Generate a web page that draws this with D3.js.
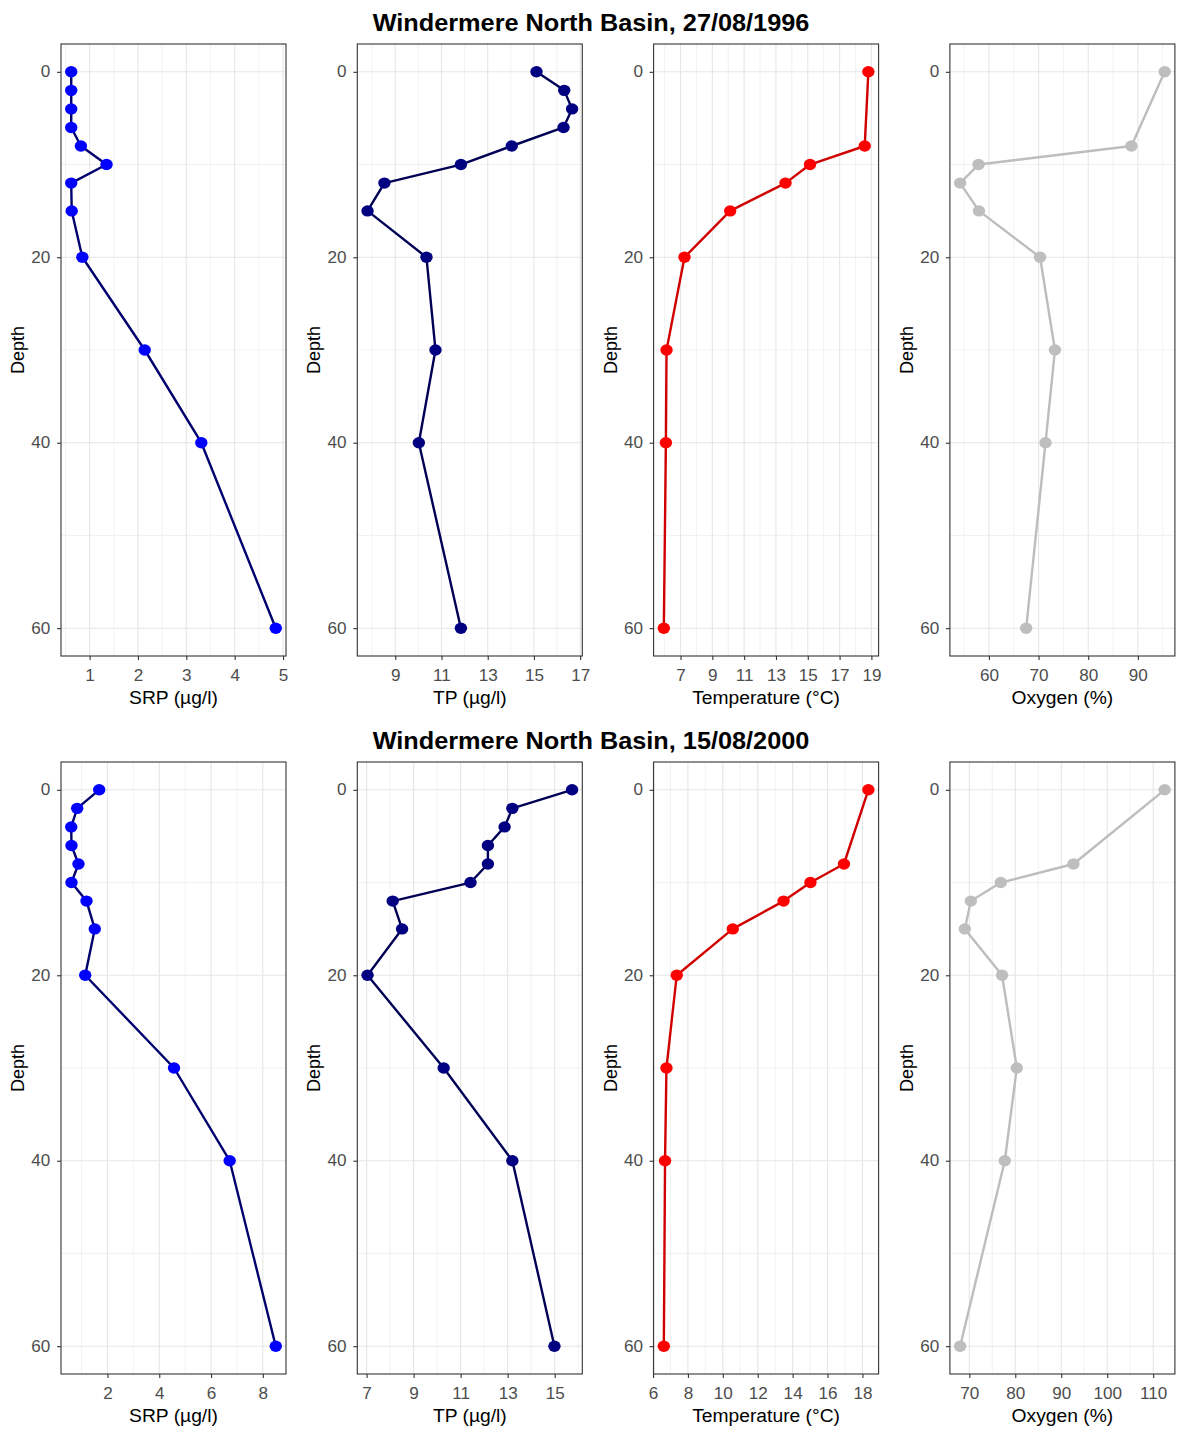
<!DOCTYPE html>
<html>
<head>
<meta charset="utf-8">
<script src="https://cdn.jsdelivr.net/npm/d3@7"></script>
<style>
  body { margin: 0; background: #fff; }
  text { font-family: "Liberation Sans", Arial, sans-serif; }
</style>
</head>
<body>
<div id="chart"></div>
<script>
// depths sampled (m)
const depthsFull = [0, 2, 4, 6, 8, 10, 12, 15, 20, 30, 40, 60];
const depthsShort = [0, 8, 10, 12, 15, 20, 30, 40, 60];

// 27/08/1996
const srp1996 = [0.62, 0.62, 0.62, 0.62, 0.82, 1.35, 0.62, 0.63, 0.85, 2.14, 3.31, 4.85];
const tp1996 = [15.11, 16.31, 16.65, 16.28, 14.04, 11.84, 8.53, 7.80, 10.35, 10.74, 10.02, 11.84];
const temp1996 = [18.81, 18.58, 15.14, 13.60, 10.12, 7.25, 6.12, 6.08, 5.95];
const oxy1996 = [95.4, 88.7, 57.9, 54.2, 58.0, 70.3, 73.3, 71.4, 67.5];

// 15/08/2000
const srp2000 = [1.68, 0.83, 0.60, 0.61, 0.88, 0.61, 1.19, 1.51, 1.14, 4.57, 6.72, 8.50];
const tp2000 = [15.74, 13.20, 12.87, 12.16, 12.16, 11.42, 8.11, 8.51, 7.04, 10.28, 13.20, 14.99];
const temp2000 = [18.34, 16.94, 15.02, 13.48, 10.57, 7.36, 6.77, 6.69, 6.62];
const oxy2000 = [112.5, 92.65, 76.85, 70.33, 69.02, 77.13, 80.33, 77.72, 68.0];

// tick labels
const depthTicks = [0, 20, 40, 60];
const srpTicks1996 = [1, 2, 3, 4, 5];
const tpTicks1996 = [9, 11, 13, 15, 17];
const tempTicks1996 = [7, 9, 11, 13, 15, 17, 19];
const oxyTicks1996 = [60, 70, 80, 90];
const srpTicks2000 = [2, 4, 6, 8];
const tpTicks2000 = [7, 9, 11, 13, 15];
const tempTicks2000 = [6, 8, 10, 12, 14, 16, 18];
const oxyTicks2000 = [70, 80, 90, 100, 110];

const titles = ["Windermere North Basin, 27/08/1996", "Windermere North Basin, 15/08/2000"];
const xTitles = ["SRP (\u00b5g/l)", "TP (\u00b5g/l)", "Temperature (\u00b0C)", "Oxygen (%)"];

const styles = [
  { point: "#0000ff", line: "#00006e" },
  { point: "#000080", line: "#000055" },
  { point: "#ff0000", line: "#d00000" },
  { point: "#bebebe", line: "#bdbdbd" }
];

const rows = [
  { top: 44, panels: [
    { depth: depthsFull, values: srp1996, ticks: srpTicks1996 },
    { depth: depthsFull, values: tp1996, ticks: tpTicks1996 },
    { depth: depthsShort, values: temp1996, ticks: tempTicks1996 },
    { depth: depthsShort, values: oxy1996, ticks: oxyTicks1996 }
  ]},
  { top: 762, panels: [
    { depth: depthsFull, values: srp2000, ticks: srpTicks2000 },
    { depth: depthsFull, values: tp2000, ticks: tpTicks2000 },
    { depth: depthsShort, values: temp2000, ticks: tempTicks2000 },
    { depth: depthsShort, values: oxy2000, ticks: oxyTicks2000 }
  ]}
];

const width = 1182, height = 1434;
const plotW = 225, plotH = 612;
const firstLeft = 61, colStep = 296.3;
const sx = 1.07; // picture is slightly stretched horizontally

const svg = d3.select("#chart").append("svg")
  .attr("width", width)
  .attr("height", height);

svg.append("rect").attr("width", width).attr("height", height).attr("fill", "#fff");

// ggplot style 5% expansion
function expand(ext) {
  const pad = (ext[1] - ext[0]) * 0.05;
  return [ext[0] - pad, ext[1] + pad];
}

function minorOf(ticks, domain) {
  const step = ticks[1] - ticks[0];
  return d3.range(ticks[0] - step / 2, ticks[ticks.length - 1] + step, step)
    .filter(v => v > domain[0] && v < domain[1]);
}

function drawPanel(p, st, xTitle, left, top) {
  const g = svg.append("g");
  const xDom = expand(d3.extent(p.values));
  const yDom = expand(d3.extent(p.depth));
  const x = d3.scaleLinear().domain(xDom).range([left, left + plotW]);
  const y = d3.scaleLinear().domain(yDom).range([top, top + plotH]);

  // grid
  const yMinor = minorOf(depthTicks, yDom);
  const xMinor = minorOf(p.ticks, xDom);
  g.selectAll(".gx-minor").data(xMinor).enter().append("line")
    .attr("x1", d => x(d)).attr("x2", d => x(d))
    .attr("y1", top).attr("y2", top + plotH)
    .attr("stroke", "#ededed").attr("stroke-width", 0.7);
  g.selectAll(".gy-minor").data(yMinor).enter().append("line")
    .attr("y1", d => y(d)).attr("y2", d => y(d))
    .attr("x1", left).attr("x2", left + plotW)
    .attr("stroke", "#ededed").attr("stroke-width", 0.7);
  g.selectAll(".gx").data(p.ticks).enter().append("line")
    .attr("x1", d => x(d)).attr("x2", d => x(d))
    .attr("y1", top).attr("y2", top + plotH)
    .attr("stroke", "#e6e6e6").attr("stroke-width", 1.1);
  g.selectAll(".gy").data(depthTicks).enter().append("line")
    .attr("y1", d => y(d)).attr("y2", d => y(d))
    .attr("x1", left).attr("x2", left + plotW)
    .attr("stroke", "#e6e6e6").attr("stroke-width", 1.1);

  // profile
  const pts = p.depth.map((d, i) => ({ depth: d, value: p.values[i] }));
  const line = d3.line().x(d => x(d.value)).y(d => y(d.depth));
  g.append("path")
    .datum(pts)
    .attr("d", line)
    .attr("fill", "none")
    .attr("stroke", st.line)
    .attr("stroke-width", 2.4)
    .attr("stroke-linejoin", "round");

  g.selectAll("ellipse").data(pts).enter().append("ellipse")
    .attr("cx", d => x(d.value))
    .attr("cy", d => y(d.depth))
    .attr("rx", 6.2)
    .attr("ry", 5.7)
    .attr("fill", st.point);

  // border
  g.append("rect")
    .attr("x", left).attr("y", top)
    .attr("width", plotW).attr("height", plotH)
    .attr("fill", "none")
    .attr("stroke", "#333")
    .attr("stroke-width", 1.1);

  // axes
  const xAxis = g.append("g")
    .attr("transform", `translate(0,${top + plotH})`)
    .call(d3.axisBottom(x).tickValues(p.ticks).tickSize(4).tickPadding(10).tickFormat(d3.format("d")));
  const yAxis = g.append("g")
    .attr("transform", `translate(${left},0)`)
    .call(d3.axisLeft(y).tickValues(depthTicks).tickSize(4).tickPadding(6).tickFormat(d3.format("d")));
  [xAxis, yAxis].forEach(a => {
    a.select(".domain").remove();
    a.selectAll(".tick line").attr("stroke", "#333").attr("stroke-width", 1.1);
    a.selectAll(".tick text")
      .attr("fill", "#4d4d4d")
      .style("font-size", "16px")
      .attr("transform", `scale(${sx},1)`);
  });

  // axis titles
  g.append("text")
    .attr("transform", `translate(${left + plotW / 2},${top + plotH + 48}) scale(${sx},1)`)
    .attr("text-anchor", "middle")
    .style("font-size", "18px")
    .attr("fill", "#000")
    .text(xTitle);

  g.append("text")
    .attr("transform", `translate(${left - 37},${top + plotH / 2}) rotate(-90) scale(1,${sx})`)
    .attr("text-anchor", "middle")
    .style("font-size", "18px")
    .attr("fill", "#000")
    .text("Depth");
}

rows.forEach((row, r) => {
  svg.append("text")
    .attr("transform", `translate(591,${row.top - 13}) scale(1.1,1)`)
    .attr("text-anchor", "middle")
    .style("font-size", "23px")
    .style("font-weight", "bold")
    .attr("fill", "#000")
    .text(titles[r]);

  row.panels.forEach((p, i) => {
    drawPanel(p, styles[i], xTitles[i], firstLeft + i * colStep, row.top);
  });
});
</script>
</body>
</html>
